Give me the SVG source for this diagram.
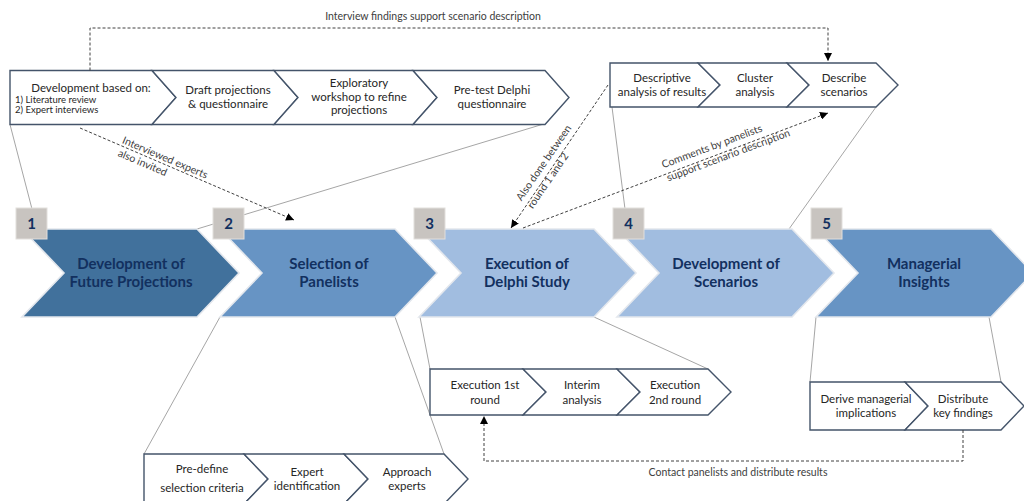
<svg xmlns="http://www.w3.org/2000/svg" width="1024" height="501" viewBox="0 0 1024 501">
<style>
.bg{fill:#ffffff}
.funnel{stroke:#a6a6a6;stroke-width:1;fill:none}
.box{fill:#ffffff;stroke:#44546a;stroke-width:1.4;stroke-linejoin:miter}
.chev{stroke:#e3e7ed;stroke-width:1.6}
.c1{fill:#41719c}.c2{fill:#6794c4}.c3{fill:#a1bde0}
.num{fill:#c8c4c0;stroke:#e2dfdc;stroke-width:1}
.dash{stroke:#404040;stroke-width:1;fill:none;stroke-dasharray:3 2}
.t{font-family:Lato,"Liberation Sans",sans-serif;font-size:11.5px;fill:#262626;text-anchor:middle}
.ts{font-family:Lato,"Liberation Sans",sans-serif;font-size:9.5px;fill:#262626}
.tl{font-family:Lato,"Liberation Sans",sans-serif;font-size:10.5px;fill:#404040}
.tc{font-family:Lato,"Liberation Sans",sans-serif;font-size:15px;font-weight:bold;fill:#12305f;text-anchor:middle}
.tn{font-family:Lato,"Liberation Sans",sans-serif;font-size:15px;font-weight:bold;fill:#12305f;text-anchor:middle}
</style>
<defs>
<marker id="ah" viewBox="0 0 10 10" refX="10" refY="5" markerWidth="8" markerHeight="8" markerUnits="userSpaceOnUse" orient="auto">
<path d="M0,0 L10,5 L0,10 Z" fill="#000000"/>
</marker>
</defs>
<rect class="bg" x="0" y="0" width="1024" height="501"/>
<g id="funnels">
<line class="funnel" x1="10" y1="124.5" x2="32" y2="209"/>
<line class="funnel" x1="542" y1="124.5" x2="197" y2="229"/>
<line class="funnel" x1="612" y1="107" x2="625" y2="209"/>
<line class="funnel" x1="876" y1="107" x2="789" y2="229"/>
<line class="funnel" x1="220" y1="317" x2="144" y2="454"/>
<line class="funnel" x1="395" y1="317" x2="444" y2="454"/>
<line class="funnel" x1="420" y1="317" x2="430" y2="369"/>
<line class="funnel" x1="594" y1="317" x2="708" y2="369"/>
<line class="funnel" x1="816" y1="317" x2="810" y2="382"/>
<line class="funnel" x1="989" y1="317" x2="1001" y2="382"/>
</g>
<g id="phase1">
<path class="chev c1" d="M22,229 H197 L239,273 L197,317 H22 L64,273 Z"/>
<rect class="num" x="16" y="208" width="31" height="31"/>
<text class="tn" x="31.5" y="229">1</text>
<text class="tc" x="131" y="268.5">Development of</text>
<text class="tc" x="131" y="286.5">Future Projections</text>
</g>
<g id="phase2">
<path class="chev c2" d="M220,229 H395 L437,273 L395,317 H220 L262,273 Z"/>
<rect class="num" x="213" y="208" width="31" height="31"/>
<text class="tn" x="228.5" y="229">2</text>
<text class="tc" x="329" y="268.5">Selection of</text>
<text class="tc" x="329" y="286.5">Panelists</text>
</g>
<g id="phase3">
<path class="chev c3" d="M419,229 H594 L636,273 L594,317 H419 L461,273 Z"/>
<rect class="num" x="414" y="208" width="31" height="31"/>
<text class="tn" x="429.5" y="229">3</text>
<text class="tc" x="527" y="268.5">Execution of</text>
<text class="tc" x="527" y="286.5">Delphi Study</text>
</g>
<g id="phase4">
<path class="chev c3" d="M617,229 H792 L834,273 L792,317 H617 L659,273 Z"/>
<rect class="num" x="613" y="208" width="31" height="31"/>
<text class="tn" x="628.5" y="229">4</text>
<text class="tc" x="726" y="268.5">Development of</text>
<text class="tc" x="726" y="286.5">Scenarios</text>
</g>
<g id="phase5">
<path class="chev c2" d="M816,229 H991 L1033,273 L991,317 H816 L858,273 Z"/>
<rect class="num" x="811" y="208" width="31" height="31"/>
<text class="tn" x="826.5" y="229">5</text>
<text class="tc" x="924" y="268.5">Managerial</text>
<text class="tc" x="924" y="286.5">Insights</text>
</g>
<g id="dev-steps">
<path class="box" d="M10,70.5 H152 L176,97.5 L152,124.5 H10 Z"/>
<path class="box" d="M152,70.5 H274 L298,97.5 L274,124.5 H152 L176,97.5 Z"/>
<path class="box" d="M274,70.5 H413 L437,97.5 L413,124.5 H274 L298,97.5 Z"/>
<path class="box" d="M413,70.5 H545 L569,97.5 L545,124.5 H413 L437,97.5 Z"/>
<text class="t" x="91" y="92">Development based on:</text>
<text class="ts" x="15" y="102.5">1) Literature review</text>
<text class="ts" x="15" y="113">2) Expert interviews</text>
<text class="t" x="228" y="94">Draft projections</text>
<text class="t" x="228" y="107.5">&amp; questionnaire</text>
<text class="t" x="359" y="87">Exploratory</text>
<text class="t" x="359" y="100.5">workshop to refine</text>
<text class="t" x="359" y="114">projections</text>
<text class="t" x="492" y="94">Pre-test Delphi</text>
<text class="t" x="492" y="107.5">questionnaire</text>
</g>
<g id="scenario-steps">
<path class="box" d="M610,63 H698 L720,85 L698,107 H610 Z"/>
<path class="box" d="M698,63 H787 L809,85 L787,107 H698 L720,85 Z"/>
<path class="box" d="M787,63 H876 L898,85 L876,107 H787 L809,85 Z"/>
<text class="t" x="662" y="82">Descriptive</text>
<text class="t" x="662" y="96">analysis of results</text>
<text class="t" x="755" y="82">Cluster</text>
<text class="t" x="755" y="96">analysis</text>
<text class="t" x="844" y="82">Describe</text>
<text class="t" x="844" y="96">scenarios</text>
</g>
<g id="selection-steps">
<path class="box" d="M144,454 H244 L268,479 L244,504 H144 Z"/>
<path class="box" d="M244,454 H344 L368,479 L344,504 H244 L268,479 Z"/>
<path class="box" d="M344,454 H444 L468,479 L444,504 H344 L368,479 Z"/>
<text class="t" x="202" y="473">Pre-define</text>
<text class="t" x="202" y="492">selection criteria</text>
<text class="t" x="307" y="476">Expert</text>
<text class="t" x="307" y="490">identification</text>
<text class="t" x="407" y="476">Approach</text>
<text class="t" x="407" y="490">experts</text>
</g>
<g id="execution-steps">
<path class="box" d="M430,369 H523 L546,392 L523,415 H430 Z"/>
<path class="box" d="M523,369 H617 L640,392 L617,415 H523 L546,392 Z"/>
<path class="box" d="M617,369 H708 L731,392 L708,415 H617 L640,392 Z"/>
<text class="t" x="485" y="389">Execution 1st</text>
<text class="t" x="485" y="404">round</text>
<text class="t" x="582" y="389">Interim</text>
<text class="t" x="582" y="404">analysis</text>
<text class="t" x="675" y="389">Execution</text>
<text class="t" x="675" y="404">2nd round</text>
</g>
<g id="insight-steps">
<path class="box" d="M810,382 H905 L928,406 L905,430 H810 Z"/>
<path class="box" d="M905,382 H1001 L1024,406 L1001,430 H905 L928,406 Z"/>
<text class="t" x="866" y="403">Derive managerial</text>
<text class="t" x="866" y="416.5">implications</text>
<text class="t" x="963" y="403">Distribute</text>
<text class="t" x="963" y="416.5">key findings</text>
</g>
<g id="connectors">
<path class="dash" d="M90,70.5 V28 H828 V61" marker-end="url(#ah)"/>
<path class="dash" d="M80,128 L294,220" marker-end="url(#ah)"/>
<path class="dash" d="M608,85 L511,228" marker-end="url(#ah)"/>
<path class="dash" d="M523,228 L828,113" marker-end="url(#ah)"/>
<path class="dash" d="M963,430 V461 H484 V416" marker-end="url(#ah)"/>
<text class="tl" x="433" y="20" text-anchor="middle">Interview findings support scenario description</text>
<text class="tl" x="738" y="476" text-anchor="middle">Contact panelists and distribute results</text>
<g transform="translate(121.5,143) rotate(23)">
<text class="tl" x="0" y="0">Interviewed experts</text>
<text class="tl" x="1" y="13.5">also invited</text>
</g>
<g transform="translate(521.5,201.5) rotate(-55.6)">
<text class="tl" x="0" y="0">Also done between</text>
<text class="tl" x="0" y="13.5">round 1 and 2</text>
</g>
<g transform="translate(663.3,168.3) rotate(-20.5)">
<text class="tl" x="0" y="0">Comments by panelists</text>
<text class="tl" x="0" y="14">support scenario description</text>
</g>
</g>
</svg>
